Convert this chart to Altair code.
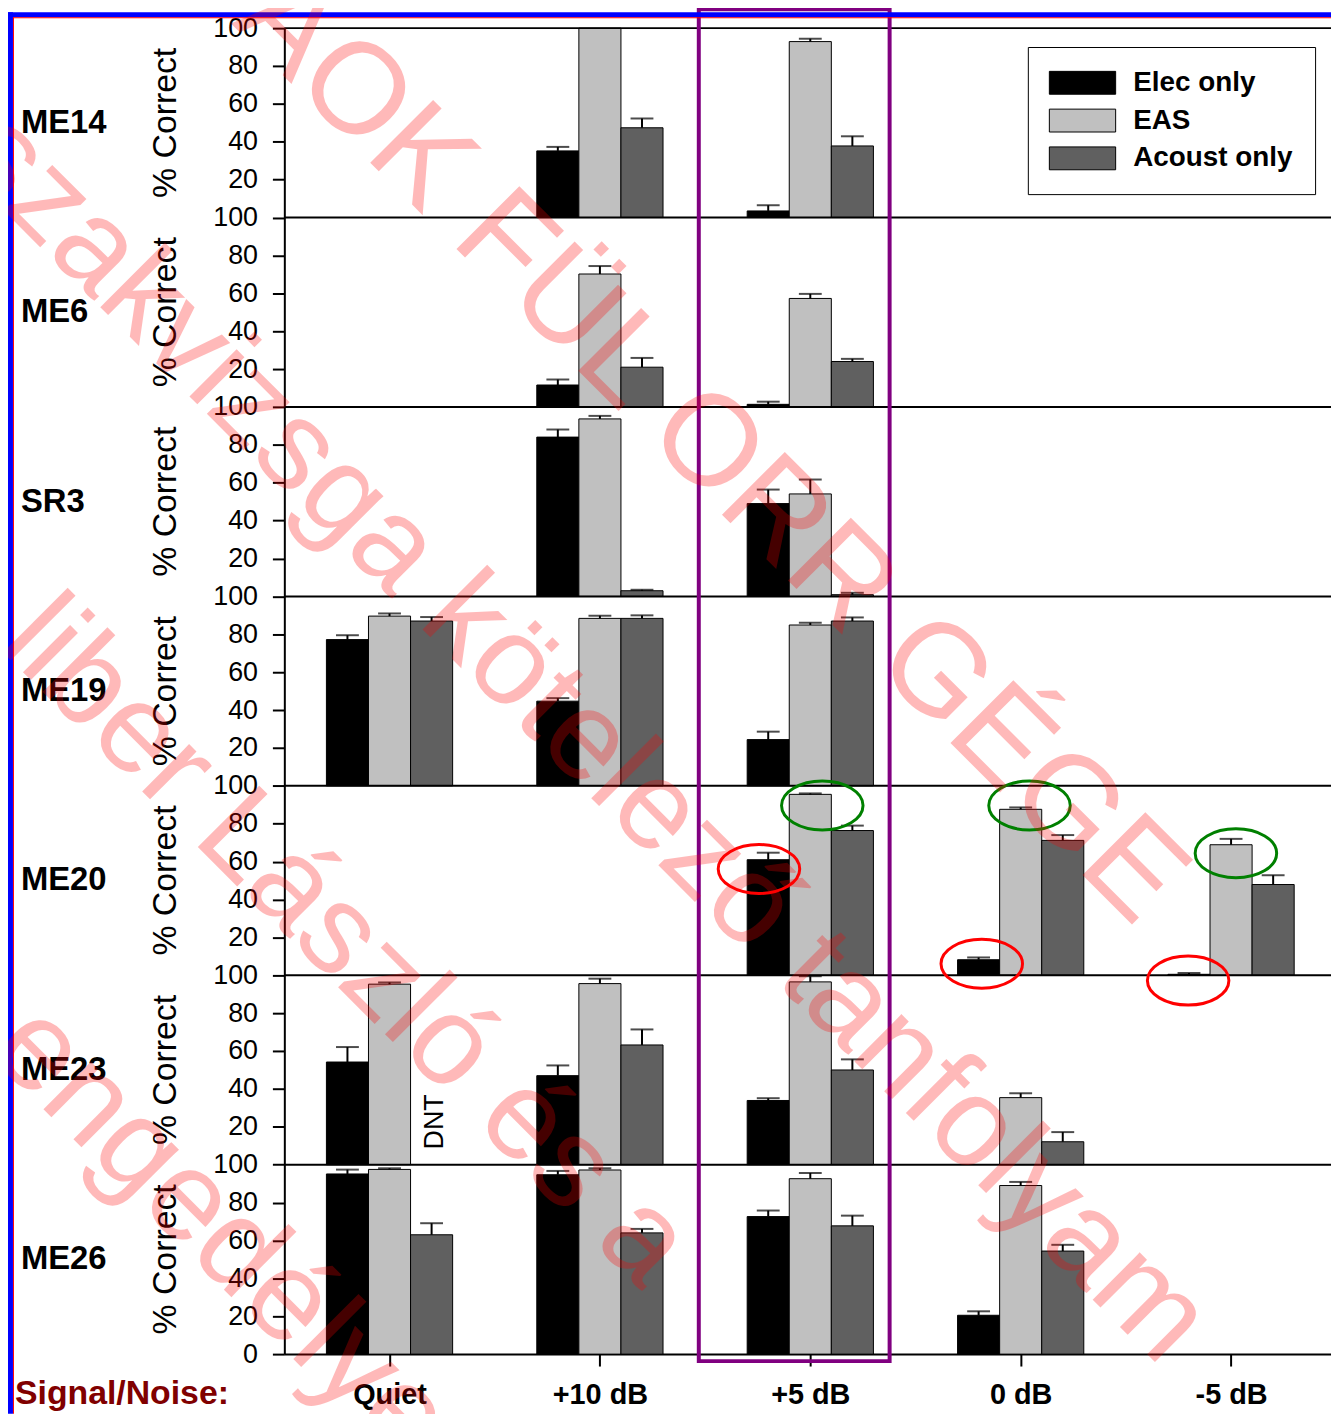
import json
import altair as alt
import pandas as pd

FONT = "Liberation Sans"

# ---------------- data ----------------
conditions = ["Quiet", "+10 dB", "+5 dB", "0 dB", "-5 dB"]
subjects = ["ME14", "ME6", "SR3", "ME19", "ME20", "ME23", "ME26"]
series = ["Elec only", "EAS", "Acoust only"]
series_colors = ["#000000", "#c0c0c0", "#606060"]

me14_elec = [None, 35.2, 3.5, None, None]
me14_elec_err = [None, 2.1, 3.0, None, None]
me14_eas = [None, 100.0, 92.9, None, None]
me14_eas_err = [None, 0.0, 1.5, None, None]
me14_acoust = [None, 47.4, 37.8, None, None]
me14_acoust_err = [None, 4.9, 5.1, None, None]

me6_elec = [None, 11.6, 1.4, None, None]
me6_elec_err = [None, 2.9, 1.4, None, None]
me6_eas = [None, 70.2, 57.3, None, None]
me6_eas_err = [None, 4.2, 2.4, None, None]
me6_acoust = [None, 21.0, 24.0, None, None]
me6_acoust_err = [None, 4.9, 1.4, None, None]

sr3_elec = [None, 84.1, 49.0, None, None]
sr3_elec_err = [None, 4.0, 7.4, None, None]
sr3_eas = [None, 93.7, 54.1, None, None]
sr3_eas_err = [None, 1.6, 7.6, None, None]
sr3_acoust = [None, 3.0, 0.9, None, None]
sr3_acoust_err = [None, 0.5, 1.0, None, None]

me19_elec = [77.2, 44.7, 24.4, None, None]
me19_elec_err = [2.3, 1.6, 4.2, None, None]
me19_eas = [89.6, 88.4, 84.9, None, None]
me19_eas_err = [1.4, 1.4, 1.2, None, None]
me19_acoust = [87.0, 88.4, 87.0, None, None]
me19_acoust_err = [2.1, 1.6, 1.9, None, None]

me20_elec = [None, None, 61.0, 8.2, 0.5]
me20_elec_err = [None, None, 3.7, 1.2, 0.7]
me20_eas = [None, None, 95.5, 87.6, 68.9]
me20_eas_err = [None, None, 0.5, 1.0, 3.1]
me20_acoust = [None, None, 76.4, 71.2, 47.9]
me20_acoust_err = [None, None, 2.6, 2.8, 4.9]

me23_elec = [54.2, 47.0, 33.9, None, None]
me23_elec_err = [7.9, 5.4, 1.2, None, None]
me23_eas = [95.3, 95.6, 96.5, 35.4, None]
me23_eas_err = [0.9, 2.6, 3.0, 2.3, None]
me23_acoust = [None, 63.2, 50.0, 12.1, None]
me23_acoust_err = [None, 8.2, 5.6, 5.1, None]

me26_elec = [95.1, 94.7, 72.6, 20.5, None]
me26_elec_err = [2.3, 2.0, 3.2, 2.1, None]
me26_eas = [97.5, 97.2, 92.6, 89.0, None]
me26_eas_err = [0.6, 0.9, 3.0, 1.9, None]
me26_acoust = [63.0, 64.0, 67.7, 54.4, None]
me26_acoust_err = [6.1, 2.1, 5.4, 3.3, None]

# "did not test" note
dnt_subject = "ME23"
dnt_condition = "Quiet"
dnt_series = "Acoust only"
dnt_level = 22.6

# highlight box around +5 dB (x in condition units, y in stacked % units)
highlight_x = [1.47, 2.377]
highlight_y = [-3.7, 710.0]

# circled results in ME20
ring_x = [1.756, 2.815, 3.796, 2.057, 3.042, 4.023]
ring_y = [256.1, 206.1, 197.2, 289.6, 289.6, 264.4]
ring_color = ["#ff0000", "#ff0000", "#ff0000", "#008000", "#008000", "#008000"]

# watermark lines
wm_lines = ["AOK FÜL ORR GÉGE", "szakvizsga kötelező tanfolyam",
            "liber László és a", "engedélye"]
wm_x = [-54, -331, -289, -299]
wm_y = [-5, 135, 622, 1031]
wm_size = [130, 127, 127, 128]

panel_series = {
    "ME14": [(me14_elec, me14_elec_err), (me14_eas, me14_eas_err), (me14_acoust, me14_acoust_err)],
    "ME6": [(me6_elec, me6_elec_err), (me6_eas, me6_eas_err), (me6_acoust, me6_acoust_err)],
    "SR3": [(sr3_elec, sr3_elec_err), (sr3_eas, sr3_eas_err), (sr3_acoust, sr3_acoust_err)],
    "ME19": [(me19_elec, me19_elec_err), (me19_eas, me19_eas_err), (me19_acoust, me19_acoust_err)],
    "ME20": [(me20_elec, me20_elec_err), (me20_eas, me20_eas_err), (me20_acoust, me20_acoust_err)],
    "ME23": [(me23_elec, me23_elec_err), (me23_eas, me23_eas_err), (me23_acoust, me23_acoust_err)],
    "ME26": [(me26_elec, me26_elec_err), (me26_eas, me26_eas_err), (me26_acoust, me26_acoust_err)],
}

# ---------------- layout constants ----------------
BAR_W = 0.2
N = len(subjects)
PLOT_W = 1053
PLOT_H = 1334
PAD_TOP = 16

rows = []
for i, subj in enumerate(subjects):
    base = (N - 1 - i) * 100
    for s, (vals, errs) in enumerate(panel_series[subj]):
        for c, (v, e) in enumerate(zip(vals, errs)):
            if v is None:
                continue
            e = e or 0.0
            xc = c + (s - 1) * BAR_W
            rows.append(dict(subject=subj, series=series[s], cond=conditions[c],
                             value=v, err=e, xc=xc, x0=xc - BAR_W / 2, x1=xc + BAR_W / 2,
                             y0=base, y1=base + v, ye=base + v + e))
df = pd.DataFrame(rows)
err_df = df[df["err"] > 0]

lab_df = pd.DataFrame({"subject": subjects,
                       "yc": [(N - 1 - i) * 100 + 50 for i in range(N)],
                       "ylab": ["% Correct"] * N})
bound_df = pd.DataFrame({"y": [(k + 1) * 100 for k in range(N)]})

dnt_df = pd.DataFrame({"x": [conditions.index(dnt_condition) + (series.index(dnt_series) - 1) * BAR_W],
                       "y": [(N - 1 - subjects.index(dnt_subject)) * 100 + dnt_level],
                       "t": ["DNT"]})
hl_df = pd.DataFrame({"x0": [highlight_x[0]], "x1": [highlight_x[1]],
                      "y0": [highlight_y[0]], "y1": [highlight_y[1]]})
ring_df = pd.DataFrame({"x": ring_x, "y": ring_y, "c": ring_color})
dummy = pd.DataFrame({"a": [0]})

# ---------------- scales / axes ----------------
XSCALE = alt.Scale(domain=[-0.5, 4.475], nice=False, zero=False)
YSCALE = alt.Scale(domain=[0, 700], nice=False, zero=False)

x_label_expr = json.dumps(conditions) + "[datum.value]"
XAXIS = alt.Axis(values=list(range(len(conditions))), labelExpr=x_label_expr,
                 tickSize=12, tickWidth=2, tickColor="black",
                 domainWidth=2, domainColor="black", grid=False,
                 labelFont=FONT, labelFontSize=29, labelFontWeight="bold",
                 labelColor="black", labelBaseline="alphabetic", labelPadding=38,
                 labelFlush=False, labelOverlap=False)
YAXIS = alt.Axis(values=list(range(0, 701, 20)),
                 labelExpr="datum.value == 0 ? '0' : (datum.value % 100 == 0 ? '100' : '' + (datum.value % 100))",
                 tickSize=12, tickWidth=2, tickColor="black",
                 domainWidth=2, domainColor="black", grid=False,
                 labelFont=FONT, labelFontSize=27, labelColor="black",
                 labelPadding=15, labelFlush=False, labelOverlap=False)


def X(f):
    return alt.X(f, type="quantitative", scale=XSCALE, axis=XAXIS, title=None)


def Y(f):
    return alt.Y(f, type="quantitative", scale=YSCALE, axis=YAXIS, title=None)


legend = alt.Legend(title=None, orient="none", legendX=748, legendY=19,
                    direction="vertical",
                    symbolType="M-2.9,-1H2.9V1H-2.9Z", symbolSize=529,
                    symbolStrokeColor="black", symbolStrokeWidth=1,
                    symbolOffset=19, labelOffset=37,
                    labelFont=FONT, labelFontSize=28, labelFontWeight="bold",
                    labelColor="black", labelLimit=400,
                    padding=22, rowPadding=10,
                    strokeColor="black", fillColor="white")

bars = alt.Chart(df).mark_rect(stroke="black", strokeWidth=1).encode(
    x=X("x0"), x2="x1", y=Y("y0"), y2="y1",
    fill=alt.Fill("series:N", scale=alt.Scale(domain=series, range=series_colors),
                  legend=legend, sort=series),
)

bounds = alt.Chart(bound_df).mark_rule(color="black", strokeWidth=2).encode(y=Y("y"))

err_lines = alt.Chart(err_df).mark_rule(color="black", strokeWidth=2).encode(
    x=X("xc"), y=Y("y1"), y2="ye")
err_caps = alt.Chart(err_df).mark_tick(orient="horizontal", color="black",
                                       thickness=2, size=23).encode(x=X("xc"), y=Y("ye"))

dnt = alt.Chart(dnt_df).mark_text(angle=270, align="center", baseline="middle",
                                  font=FONT, fontSize=27, color="black", dy=3).encode(
    x=X("x"), y=Y("y"), text="t:N")

subj_text = alt.Chart(lab_df).mark_text(align="left", baseline="middle", font=FONT,
                                        fontSize=33, fontWeight="bold", color="black").encode(
    x=alt.value(-265), y=Y("yc"), text="subject:N")
ylab_text = alt.Chart(lab_df).mark_text(angle=270, align="center", baseline="middle",
                                        font=FONT, fontSize=34, color="black").encode(
    x=alt.value(-119), y=Y("yc"), text="ylab:N")

sn_text = alt.Chart(dummy).mark_text(align="left", baseline="alphabetic", font=FONT,
                                     fontSize=34, fontWeight="bold", color="#800000",
                                     text="Signal/Noise:").encode(
    x=alt.value(-271), y=alt.value(PLOT_H + 50))

highlight = alt.Chart(hl_df).mark_rect(fillOpacity=0, stroke="#800080", strokeWidth=4).encode(
    x=X("x0"), x2="x1", y=Y("y0"), y2="y1")

ELLIPSE = "M-1,0A1,0.6,0,1,0,1,0A1,0.6,0,1,0,-1,0Z"
rings = alt.Chart(ring_df).mark_point(shape=ELLIPSE, filled=False, size=6724,
                                      strokeWidth=3, opacity=1).encode(
    x=X("x"), y=Y("y"), stroke=alt.Stroke("c:N", scale=None))

# frame (blue with thin red inner line) on top and left edges
frame = [
    alt.Chart(dummy).mark_rect(color="#0000ff").encode(
        x=alt.value(-278), x2=alt.value(PLOT_W), y=alt.value(-PAD_TOP), y2=alt.value(-PAD_TOP + 5)),
    alt.Chart(dummy).mark_rect(color="#0000ff").encode(
        x=alt.value(-278), x2=alt.value(-273), y=alt.value(-PAD_TOP), y2=alt.value(PLOT_H + 60)),
    alt.Chart(dummy).mark_rect(color="#ff0000").encode(
        x=alt.value(-273), x2=alt.value(PLOT_W), y=alt.value(-PAD_TOP + 5), y2=alt.value(-PAD_TOP + 6)),
    alt.Chart(dummy).mark_rect(color="#ff0000").encode(
        x=alt.value(-273), x2=alt.value(-272), y=alt.value(-PAD_TOP + 5), y2=alt.value(PLOT_H + 60)),
]

watermark = []
for t, wx, wy, ws in zip(wm_lines, wm_x, wm_y, wm_size):
    watermark.append(
        alt.Chart(dummy).mark_text(text=t, angle=45, align="left", baseline="alphabetic",
                                   font=FONT, fontSize=ws, color="#ff0000", opacity=0.27).encode(
            x=alt.value(wx), y=alt.value(wy)))

chart = alt.layer(bars, bounds, err_lines, err_caps, dnt, subj_text, ylab_text, sn_text,
                  highlight, rings, *frame, *watermark).properties(
    width=PLOT_W, height=PLOT_H,
    padding={"left": 278, "top": PAD_TOP, "right": 0, "bottom": 56},
    autosize=alt.AutoSizeParams(type="none"),
).configure_view(strokeWidth=0).configure(background="white")

chart.save("out.html", embed_options={"renderer": "svg", "actions": False})
